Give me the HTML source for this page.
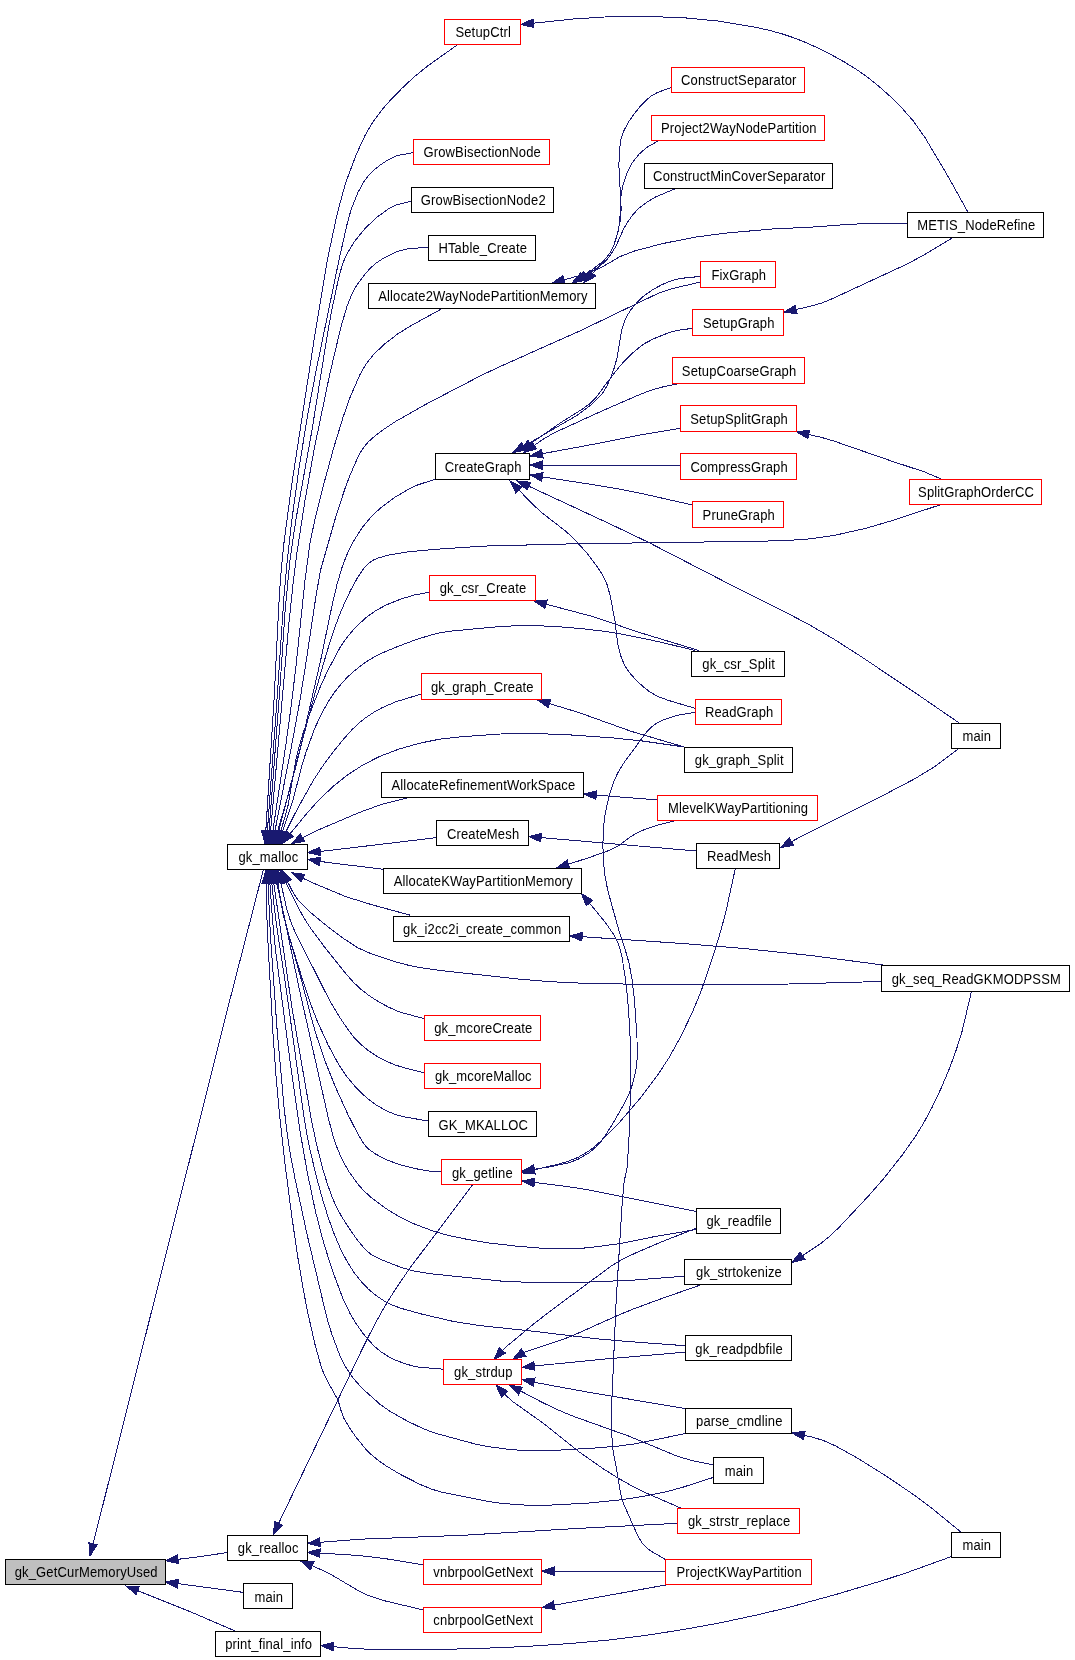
<!DOCTYPE html>
<html><head><meta charset="utf-8"><style>
html,body{margin:0;padding:0;background:#fff;width:1075px;height:1660px;overflow:hidden}
svg{position:absolute;left:0;top:0;display:block}
.tx{will-change:transform}
text{font-family:"Liberation Sans",sans-serif;font-size:13px;fill:#000;letter-spacing:0.16px}
</style></head><body>
<svg width="1075" height="1660" viewBox="0 0 1075 1660">
<g fill="none" stroke="#191970" stroke-width="1" shape-rendering="crispEdges">
<path d="M263.4,869.5 L230.4,997.9 L93.1,1543.9"/>
<path d="M227.2,1552.6 L191.3,1557.8 L177.9,1559.3"/>
<path d="M243.4,1592.4 L177.9,1583.6"/>
<path d="M235.5,1631.2 L190.8,1611.9 L137.6,1590.6"/>
<path d="M472.4,1185.0 L409.7,1268.4 L394.7,1290.3 L382.2,1310.8 L373.5,1326.8 L364.1,1345.2 L278.7,1523.2"/>
<path d="M677.7,1523.3 L578.0,1528.4 L462.9,1535.3 L360.5,1539.2 L320.0,1542.3"/>
<path d="M423.1,1564.8 L386.9,1558.9 L368.4,1556.5 L347.3,1554.7 L320.0,1553.2"/>
<path d="M423.1,1609.9 L385.8,1601.1 L368.4,1595.5 L356.4,1589.6 L329.3,1573.4 L312.2,1565.8"/>
<path d="M457.7,44.6 L428.0,65.7 L413.7,77.3 L402.7,87.6 L391.9,98.5 L383.7,107.8 L376.2,117.4 L371.1,124.9 L365.0,135.5 L356.0,155.1 L345.3,183.9 L337.3,213.2 L327.9,257.1 L314.2,338.9 L291.8,484.1 L284.1,541.6 L281.3,569.0 L279.3,596.1 L274.2,696.9 L265.8,831.0"/>
<path d="M413.1,152.6 L396.6,155.7 L388.0,159.8 L379.9,165.3 L374.6,169.6 L367.7,176.6 L364.1,181.4 L358.2,191.9 L351.3,208.9 L347.2,223.7 L339.3,258.5 L316.6,368.2 L308.2,411.9 L299.3,466.1 L291.8,520.3 L287.0,563.0 L284.0,596.1 L277.4,693.9 L267.4,831.0"/>
<path d="M411.3,201.3 L396.4,204.9 L388.4,208.9 L375.8,218.1 L364.5,229.1 L354.6,241.4 L347.7,252.5 L345.0,258.0 L342.0,265.9 L338.2,279.9 L331.9,309.5 L327.9,331.3 L312.0,430.0 L295.8,520.3 L290.0,560.0 L285.3,608.2 L279.5,693.9 L269.0,831.0"/>
<path d="M428.1,247.2 L408.0,248.8 L398.6,251.1 L392.9,253.4 L384.5,257.6 L376.9,262.5 L371.6,267.0 L366.8,272.0 L360.5,280.0 L355.4,287.3 L352.4,292.8 L347.3,305.4 L340.9,327.1 L329.7,374.4 L314.4,448.0 L304.7,502.1 L296.8,553.8 L292.7,587.0 L288.6,626.5 L270.6,831.0"/>
<path d="M442.4,308.4 L411.0,325.7 L397.9,333.8 L385.2,343.5 L373.7,354.3 L366.0,364.0 L360.0,374.5 L350.1,397.2 L342.9,417.7 L333.7,447.8 L324.5,481.4 L314.5,521.2 L309.7,544.8 L304.9,581.3 L296.2,664.3 L291.6,702.9 L285.5,747.3 L272.8,831.1"/>
<path d="M700.6,282.0 L672.6,288.5 L658.0,293.4 L581.9,330.0 L501.7,365.8 L481.7,375.2 L428.0,403.1 L396.2,421.1 L383.8,429.3 L375.4,435.5 L368.7,441.5 L363.7,447.3 L360.1,453.0 L357.3,458.5 L349.8,475.8 L345.4,487.3 L336.5,514.3 L320.6,570.0 L316.2,594.6 L304.8,670.3 L299.5,702.9 L291.3,747.3 L274.9,831.2"/>
<path d="M435.2,479.3 L418.3,484.7 L409.6,488.5 L394.2,497.7 L381.5,507.2 L372.5,515.3 L362.6,527.1 L354.4,539.7 L347.9,552.2 L342.3,566.5 L337.0,584.4 L332.3,604.4 L321.0,658.6 L299.4,752.7 L290.1,788.3 L277.5,831.5"/>
<path d="M941.5,504.4 L890.1,521.2 L865.4,528.4 L834.8,535.3 L810.6,538.8 L793.1,540.1 L763.2,541.2 L574.1,543.8 L483.0,546.1 L435.8,549.3 L406.7,552.0 L389.2,555.0 L379.1,557.7 L373.7,559.9 L368.7,563.2 L364.6,567.2 L357.6,577.5 L351.4,588.8 L345.9,599.9 L339.5,614.9 L334.1,629.5 L326.6,653.0 L315.7,690.7 L297.7,757.7 L278.6,831.4"/>
<path d="M429.1,592.3 L414.0,595.1 L401.9,598.7 L386.5,604.8 L374.8,611.2 L365.2,618.3 L354.2,628.8 L346.4,638.1 L339.6,648.3 L327.8,670.5 L320.3,686.8 L311.4,709.4 L303.2,732.9 L298.7,748.2 L295.8,760.3 L288.0,805.6 L284.8,817.7 L280.6,831.5"/>
<path d="M695.3,650.6 L664.7,643.1 L646.5,639.1 L622.6,634.3 L603.6,631.2 L582.2,628.7 L559.8,626.8 L537.6,625.7 L520.0,625.5 L496.7,626.8 L450.2,631.2 L440.3,632.7 L428.6,635.7 L413.3,640.6 L395.8,647.3 L381.8,653.2 L373.8,657.3 L366.0,662.0 L355.9,669.6 L348.7,675.9 L342.1,682.8 L334.6,692.2 L329.4,699.9 L323.1,710.7 L315.1,727.4 L306.3,751.4 L301.7,766.4 L293.0,800.0 L282.5,831.7"/>
<path d="M421.3,694.0 L395.2,702.0 L381.4,708.1 L373.3,712.6 L365.5,717.8 L358.3,723.6 L351.9,729.8 L343.7,738.9 L332.0,753.4 L322.5,766.4 L313.7,779.8 L297.8,808.1 L285.6,832.3"/>
<path d="M683.8,746.9 L641.8,740.9 L611.6,737.8 L568.6,734.8 L531.9,733.4 L500.6,734.0 L460.6,736.8 L440.0,739.1 L419.1,743.3 L398.6,749.2 L379.0,756.7 L362.7,765.1 L347.1,775.3 L333.0,786.5 L317.5,801.5 L306.0,814.4 L290.0,833.9"/>
<path d="M407.6,797.9 L381.0,804.6 L358.5,812.8 L317.1,830.5 L302.5,837.7"/>
<path d="M436.7,837.6 L334.9,849.8 L320.2,851.4"/>
<path d="M383.1,869.3 L327.4,862.4 L320.1,861.4"/>
<path d="M409.9,915.1 L372.8,905.0 L346.2,896.8 L315.1,883.8 L302.7,878.2"/>
<path d="M881.3,981.5 L789.4,984.0 L733.6,984.7 L656.1,984.6 L584.5,983.3 L549.9,981.7 L520.0,979.2 L438.6,970.3 L419.8,967.6 L407.5,965.0 L394.9,961.6 L371.5,953.9 L358.0,947.9 L342.6,937.9 L329.9,928.4 L315.2,916.4 L307.9,910.1 L301.2,903.5 L297.2,898.8 L293.6,893.5 L287.5,881.7"/>
<path d="M424.0,1018.6 L402.5,1012.8 L396.3,1010.7 L387.7,1006.7 L376.5,1000.5 L368.3,995.0 L360.5,988.9 L353.9,982.7 L345.6,973.4 L324.1,946.5 L309.2,926.2 L304.1,918.2 L298.2,907.5 L285.5,881.7"/>
<path d="M424.0,1072.9 L403.3,1067.5 L394.7,1064.8 L386.4,1061.3 L378.1,1057.0 L367.8,1050.2 L360.5,1044.2 L354.3,1037.7 L348.6,1030.4 L339.5,1017.1 L329.9,1001.1 L295.0,931.9 L290.4,920.7 L286.8,909.2 L280.8,882.7"/>
<path d="M428.1,1121.0 L405.4,1117.1 L396.2,1114.8 L387.4,1111.3 L376.5,1105.2 L366.5,1097.7 L356.0,1087.7 L346.0,1075.6 L338.1,1063.5 L328.0,1044.7 L317.5,1021.7 L310.7,1004.2 L303.6,983.1 L289.6,938.0 L283.2,914.5 L280.2,898.9 L278.1,882.9"/>
<path d="M441.4,1171.7 L429.4,1171.1 L414.6,1168.5 L398.9,1164.4 L386.7,1159.8 L375.1,1153.8 L367.4,1148.1 L363.5,1143.4 L358.3,1134.8 L347.9,1114.5 L334.6,1085.1 L325.5,1062.1 L316.5,1035.9 L311.4,1018.2 L302.3,983.1 L287.9,932.2 L283.0,910.8 L277.5,882.8"/>
<path d="M695.8,1229.6 L653.5,1236.8 L620.4,1243.6 L587.7,1247.8 L572.0,1248.8 L557.0,1248.9 L538.6,1248.0 L514.2,1245.9 L489.3,1243.0 L468.3,1239.6 L447.5,1235.2 L433.1,1231.0 L415.1,1224.3 L400.2,1217.3 L386.3,1208.8 L370.9,1197.2 L364.0,1190.9 L358.0,1184.3 L349.1,1171.8 L344.4,1163.9 L340.1,1155.0 L336.0,1145.0 L332.6,1134.6 L328.0,1116.7 L299.4,989.5 L280.9,901.3 L276.5,882.6"/>
<path d="M684.4,1276.2 L632.6,1280.2 L580.2,1282.4 L537.9,1282.7 L502.3,1281.2 L431.1,1273.8 L413.7,1271.0 L400.7,1267.3 L380.0,1259.1 L371.4,1254.6 L366.4,1250.6 L358.0,1241.0 L348.5,1227.4 L341.7,1216.7 L335.4,1204.8 L330.8,1193.7 L326.9,1182.4 L322.3,1167.2 L317.4,1148.2 L311.7,1121.6 L292.1,1008.5 L273.7,882.9"/>
<path d="M684.9,1345.7 L626.3,1341.4 L595.9,1338.7 L529.5,1330.8 L479.9,1325.6 L453.2,1321.4 L421.8,1314.1 L400.7,1308.2 L392.0,1305.0 L383.7,1300.7 L376.0,1295.5 L368.7,1289.4 L362.2,1282.8 L354.1,1272.6 L347.4,1262.1 L340.7,1249.3 L334.4,1234.5 L328.3,1217.8 L322.1,1197.7 L316.2,1175.9 L310.3,1151.0 L306.6,1133.0 L303.7,1115.2 L286.2,988.8 L276.8,927.0 L274.1,906.0 L271.8,882.9"/>
<path d="M443.4,1369.2 L420.1,1367.3 L413.7,1366.2 L404.0,1363.4 L394.8,1359.8 L389.2,1357.0 L380.7,1351.6 L375.5,1347.3 L369.0,1340.6 L363.1,1333.5 L355.5,1322.7 L350.3,1314.0 L342.7,1298.0 L332.9,1271.8 L323.9,1243.8 L315.5,1211.6 L307.3,1172.4 L299.8,1129.9 L289.2,1054.9 L275.6,950.6 L272.5,919.9 L269.9,883.0"/>
<path d="M686.1,1433.4 L635.4,1443.8 L617.2,1446.2 L592.3,1448.2 L549.4,1450.7 L534.0,1451.0 L511.7,1449.7 L486.9,1446.5 L474.7,1443.9 L434.0,1432.8 L422.2,1428.2 L407.0,1420.9 L390.3,1411.5 L380.0,1404.3 L364.3,1390.2 L357.8,1383.5 L351.7,1376.3 L345.1,1366.2 L339.8,1355.4 L331.9,1334.4 L326.8,1317.6 L307.1,1234.7 L294.9,1178.1 L289.8,1151.2 L287.1,1133.1 L284.2,1108.6 L277.2,1031.1 L270.4,935.8 L268.0,883.0"/>
<path d="M713.4,1477.4 L681.0,1487.8 L665.6,1491.9 L642.3,1496.6 L617.7,1500.2 L586.9,1503.2 L552.1,1505.0 L525.7,1505.1 L502.2,1503.5 L487.1,1501.3 L440.8,1491.9 L431.5,1489.1 L420.1,1484.4 L400.0,1474.2 L386.3,1466.0 L378.5,1460.6 L371.1,1454.5 L366.5,1450.0 L355.8,1436.9 L350.0,1428.6 L344.0,1418.4 L341.5,1412.1 L338.0,1400.0 L326.5,1379.4 L323.7,1373.3 L320.9,1365.7 L315.2,1345.3 L307.5,1311.5 L303.0,1287.9 L297.6,1256.0 L291.6,1214.9 L284.8,1162.2 L280.0,1119.4 L276.1,1076.9 L273.0,1034.2 L267.6,935.8 L266.6,909.1 L266.2,883.0"/>
<path d="M671.0,87.5 L657.0,92.7 L651.6,95.7 L646.9,99.5 L640.1,106.5 L634.1,114.1 L628.6,121.9 L624.1,130.2 L621.0,138.8 L619.3,150.6 L618.9,166.0 L621.2,208.8 L620.0,221.8 L617.2,234.4 L614.1,244.5 L609.5,253.7 L600.8,264.4 L592.6,273.4"/>
<path d="M659.0,140.4 L647.0,147.3 L639.0,154.2 L632.3,162.7 L627.3,172.4 L623.0,184.9 L621.1,193.9 L620.4,211.8 L619.2,224.5 L618.2,231.0 L614.7,243.2 L610.5,252.0 L606.9,256.9 L600.9,262.9 L585.8,274.8"/>
<path d="M676.9,188.0 L655.8,196.9 L647.1,202.0 L639.1,208.0 L632.3,215.3 L626.6,223.7 L623.4,229.3 L615.8,246.5 L610.9,254.3 L607.2,259.2 L602.5,263.9 L595.4,269.2 L582.8,276.7"/>
<path d="M907.1,223.1 L851.9,224.1 L810.9,227.2 L773.5,228.9 L726.9,233.0 L695.4,237.1 L663.0,243.5 L634.5,251.0 L620.4,256.4 L602.4,266.9 L594.0,270.8 L579.8,275.5 L564.0,279.8"/>
<path d="M967.8,212.0 L948.8,177.7 L925.2,137.9 L912.9,120.5 L900.1,106.0 L891.0,97.1 L879.4,86.8 L867.4,77.1 L857.5,70.1 L844.2,61.9 L831.1,54.6 L817.4,47.7 L805.8,42.5 L793.9,37.8 L782.2,33.9 L770.3,30.6 L755.0,27.2 L717.9,21.0 L684.4,17.8 L644.7,16.3 L604.7,17.0 L573.2,19.0 L533.4,23.2"/>
<path d="M953.2,237.4 L924.0,254.9 L907.8,263.7 L831.2,299.2 L822.3,302.8 L813.6,305.5 L796.2,309.5"/>
<path d="M700.6,276.4 L680.6,278.4 L674.0,279.9 L667.8,282.1 L661.6,284.8 L652.7,289.7 L644.6,295.3 L639.5,299.8 L631.0,309.6 L627.7,314.8 L625.0,320.2 L621.9,329.0 L617.0,357.7 L614.6,366.9 L611.4,375.7 L607.4,385.0 L604.1,390.9 L600.4,395.9 L591.8,404.3 L576.8,415.5 L523.8,446.2"/>
<path d="M692.4,328.4 L677.3,330.3 L668.7,332.7 L654.1,338.6 L645.8,342.9 L640.7,346.2 L631.3,354.1 L620.6,365.2 L606.4,383.3 L596.8,396.6 L590.1,403.5 L583.1,408.6 L561.4,422.2 L530.2,443.8"/>
<path d="M680.1,383.3 L662.6,387.0 L650.7,390.3 L636.4,396.0 L604.4,409.9 L553.9,432.9 L542.8,439.5 L534.3,445.4"/>
<path d="M680.1,428.3 L643.3,434.4 L597.0,443.6 L542.3,453.7"/>
<path d="M680.1,465.1 L542.5,465.1"/>
<path d="M692.4,505.0 L644.8,494.2 L620.0,489.2 L590.9,484.3 L542.4,476.9"/>
<path d="M695.3,708.4 L668.1,700.3 L659.8,697.2 L654.9,694.9 L649.2,691.4 L644.2,687.6 L637.6,681.6 L631.1,674.6 L627.2,669.4 L624.0,664.0 L620.7,655.8 L617.7,643.8 L615.0,621.2 L610.4,596.5 L607.1,584.7 L604.6,578.9 L601.4,573.1 L595.9,564.9 L588.0,554.4 L574.9,539.7 L565.6,531.1 L540.9,512.0 L529.9,501.4 L518.9,490.0"/>
<path d="M958.6,722.6 L916.1,693.4 L858.6,654.9 L832.4,638.2 L808.9,624.5 L784.9,611.9 L736.7,587.9 L648.4,542.3 L611.2,524.5 L528.8,486.2"/>
<path d="M940.9,478.9 L924.7,472.0 L892.8,461.5 L833.5,440.9 L821.4,437.4 L808.7,434.5"/>
<path d="M699.2,650.6 L638.2,632.1 L594.4,617.0 L546.1,604.2"/>
<path d="M683.8,746.9 L631.5,731.4 L577.8,712.2 L549.5,703.6"/>
<path d="M656.8,799.9 L596.3,795.1"/>
<path d="M678.0,820.1 L658.1,824.9 L645.0,829.3 L635.6,833.6 L630.0,837.2 L619.1,845.4 L610.3,850.0 L589.4,857.5 L568.5,864.2"/>
<path d="M696.3,851.0 L541.2,837.6"/>
<path d="M959.1,748.2 L933.9,767.1 L915.3,778.5 L879.3,797.4 L808.0,832.9 L791.5,841.6"/>
<path d="M665.6,1559.6 L651.4,1551.3 L646.1,1547.4 L641.9,1542.7 L637.0,1534.1 L624.1,1505.0 L622.0,1499.2 L620.1,1490.8 L617.2,1472.6 L612.8,1449.3 L611.5,1430.2 L611.9,1400.0 L616.2,1299.8 L622.1,1204.5 L624.2,1181.2 L626.9,1169.0 L627.4,1164.6 L629.4,1130.6 L630.8,1074.9 L630.6,1050.5 L629.6,1026.4 L627.6,998.3 L625.5,979.4 L622.1,957.6 L620.1,948.9 L618.3,943.6 L614.0,935.0 L605.1,922.1 L589.5,903.1"/>
<path d="M883.4,965.1 L811.7,955.6 L745.0,948.6 L684.0,943.6 L582.2,936.7"/>
<path d="M695.3,712.2 L677.1,715.3 L664.7,719.3 L655.7,723.8 L650.8,727.5 L646.8,731.8 L624.5,761.9 L617.7,772.9 L614.0,781.1 L610.1,792.7 L607.1,804.7 L604.8,816.3 L603.3,829.6 L602.9,845.8 L603.4,861.2 L605.1,876.7 L607.4,888.5 L611.4,903.8 L619.2,931.3 L626.7,954.6 L629.1,963.6 L631.9,978.3 L634.4,999.5 L637.0,1037.6 L637.1,1059.5 L636.1,1068.4 L634.9,1075.0 L632.6,1083.9 L629.8,1092.0 L627.1,1098.2 L624.0,1104.0 L613.3,1122.7 L606.2,1134.1 L600.7,1141.8 L597.1,1145.9 L589.0,1152.9 L577.8,1159.4 L568.6,1162.8 L550.2,1166.8 L534.4,1169.2"/>
<path d="M735.2,869.0 L726.6,908.5 L721.3,929.2 L713.4,955.1 L701.2,990.9 L692.7,1011.6 L680.8,1036.5 L668.9,1057.9 L657.0,1076.0 L640.1,1098.4 L619.3,1122.6 L604.7,1137.6 L595.8,1145.6 L588.7,1151.2 L577.8,1157.5 L567.8,1161.4 L556.2,1164.7 L534.1,1169.8"/>
<path d="M695.8,1211.4 L587.1,1189.6 L565.8,1186.3 L534.4,1182.5"/>
<path d="M971.4,991.7 L962.0,1031.6 L956.3,1049.7 L949.8,1067.7 L941.2,1088.0 L932.1,1107.3 L923.3,1123.6 L915.2,1136.7 L902.6,1154.6 L883.5,1178.8 L869.1,1195.3 L839.6,1226.8 L830.8,1235.3 L821.1,1243.3 L802.5,1255.7"/>
<path d="M695.8,1228.4 L661.7,1241.8 L636.4,1252.6 L622.6,1259.2 L612.2,1265.3 L552.0,1309.8 L534.4,1323.4 L507.0,1346.1 L500.6,1352.2 L502.5,1350.3"/>
<path d="M701.8,1284.5 L654.9,1301.0 L632.1,1309.5 L617.8,1315.4 L571.4,1336.2 L559.4,1340.6 L524.8,1352.1 L519.0,1355.0 L523.7,1352.5"/>
<path d="M684.9,1352.2 L602.0,1359.3 L534.4,1366.0"/>
<path d="M684.9,1408.5 L588.6,1392.3 L540.8,1383.5 L534.2,1382.2"/>
<path d="M713.4,1464.8 L692.3,1460.6 L677.5,1456.3 L629.3,1436.3 L571.2,1415.5 L556.5,1409.2 L542.8,1402.7 L520.6,1391.0"/>
<path d="M681.3,1508.3 L648.2,1493.9 L634.6,1487.4 L618.7,1478.5 L603.0,1468.6 L578.3,1451.3 L544.6,1424.2 L512.9,1401.7 L506.0,1395.6 L504.6,1394.1"/>
<path d="M960.8,1532.0 L933.4,1509.5 L916.2,1496.4 L887.0,1476.6 L858.0,1458.4 L836.5,1446.4 L823.5,1440.5 L811.2,1436.8 L804.3,1435.4"/>
<path d="M665.4,1571.2 L554.5,1571.2"/>
<path d="M665.6,1585.0 L554.3,1605.2"/>
<path d="M951.0,1556.7 L908.4,1572.1 L886.0,1579.5 L837.2,1594.1 L791.7,1606.6 L758.6,1614.6 L720.3,1622.8 L681.8,1629.8 L646.3,1635.3 L610.4,1639.9 L571.1,1643.5 L525.6,1646.5 L473.4,1648.7 L421.1,1649.7 L377.1,1649.5 L354.1,1648.6 L333.4,1646.7"/>
</g>
<g fill="#191970" stroke="#191970" stroke-width="1" shape-rendering="crispEdges">
<polygon points="90.0,1556.0 88.9,1542.8 97.2,1544.9"/>
<polygon points="165.5,1560.6 177.5,1555.0 178.4,1563.6"/>
<polygon points="165.5,1582.0 178.5,1579.4 177.3,1587.9"/>
<polygon points="126.0,1586.0 139.2,1586.6 136.1,1594.6"/>
<polygon points="273.3,1534.5 274.8,1521.4 282.6,1525.1"/>
<polygon points="307.5,1543.4 319.6,1538.0 320.3,1546.6"/>
<polygon points="307.5,1552.4 320.2,1548.9 319.7,1557.4"/>
<polygon points="300.7,1561.0 313.9,1561.8 310.6,1569.8"/>
<polygon points="265.0,843.5 261.5,830.8 270.1,831.3"/>
<polygon points="266.5,843.5 263.1,830.7 271.7,831.3"/>
<polygon points="268.0,843.5 264.7,830.7 273.2,831.4"/>
<polygon points="269.5,843.5 266.3,830.7 274.9,831.4"/>
<polygon points="271.0,843.5 268.6,830.5 277.1,831.8"/>
<polygon points="272.5,843.5 270.6,830.4 279.1,832.0"/>
<polygon points="274.0,843.5 273.4,830.3 281.6,832.7"/>
<polygon points="275.5,843.5 274.5,830.3 282.8,832.5"/>
<polygon points="277.0,843.5 276.5,830.3 284.7,832.8"/>
<polygon points="278.5,843.5 278.5,830.3 286.6,833.0"/>
<polygon points="280.0,843.5 281.7,830.4 289.4,834.2"/>
<polygon points="282.0,843.5 286.7,831.1 293.3,836.6"/>
<polygon points="291.5,843.6 300.5,833.9 304.6,841.5"/>
<polygon points="307.8,852.6 319.8,847.2 320.6,855.7"/>
<polygon points="307.8,859.3 320.8,857.2 319.4,865.7"/>
<polygon points="291.5,872.7 304.6,874.3 300.9,882.0"/>
<polygon points="282.0,870.5 291.3,879.8 283.6,883.6"/>
<polygon points="280.0,870.5 289.4,879.8 281.7,883.6"/>
<polygon points="278.0,870.5 285.0,881.7 276.6,883.6"/>
<polygon points="276.5,870.5 282.3,882.4 273.8,883.4"/>
<polygon points="275.0,870.5 281.7,881.9 273.2,883.6"/>
<polygon points="273.5,870.5 280.7,881.6 272.3,883.7"/>
<polygon points="272.0,870.5 278.0,882.3 269.5,883.5"/>
<polygon points="270.5,870.5 276.0,882.5 267.5,883.4"/>
<polygon points="269.0,870.5 274.2,882.7 265.6,883.3"/>
<polygon points="267.5,870.5 272.3,882.8 263.7,883.2"/>
<polygon points="266.0,870.5 270.5,882.9 261.9,883.1"/>
<polygon points="584.0,282.5 589.4,270.4 595.7,276.3"/>
<polygon points="576.0,282.5 583.2,271.4 588.5,278.1"/>
<polygon points="572.0,283.0 580.6,273.0 585.0,280.4"/>
<polygon points="552.0,283.2 562.9,275.7 565.2,283.9"/>
<polygon points="521.0,24.5 533.0,18.9 533.9,27.5"/>
<polygon points="784.0,312.1 795.3,305.3 797.1,313.7"/>
<polygon points="513.0,452.5 521.7,442.5 526.0,450.0"/>
<polygon points="520.0,451.0 527.8,440.3 532.7,447.4"/>
<polygon points="524.0,452.5 531.8,441.9 536.7,448.9"/>
<polygon points="530.0,456.0 541.5,449.5 543.1,458.0"/>
<polygon points="530.0,465.1 542.5,460.8 542.5,469.4"/>
<polygon points="530.0,475.0 543.0,472.7 541.7,481.2"/>
<polygon points="510.2,481.0 522.0,487.0 515.8,493.0"/>
<polygon points="517.5,481.0 530.7,482.3 527.0,490.2"/>
<polygon points="796.5,431.8 809.6,430.3 807.8,438.7"/>
<polygon points="534.0,601.0 547.2,600.0 545.0,608.3"/>
<polygon points="537.5,700.0 550.7,699.4 548.3,707.7"/>
<polygon points="583.8,794.1 596.6,790.8 595.9,799.4"/>
<polygon points="556.6,868.0 567.2,860.1 569.8,868.3"/>
<polygon points="528.7,836.5 541.5,833.3 540.8,841.9"/>
<polygon points="780.5,847.5 789.5,837.8 793.5,845.4"/>
<polygon points="581.5,893.5 592.8,900.3 586.2,905.8"/>
<polygon points="569.7,935.9 582.5,932.4 581.9,941.0"/>
<polygon points="522.0,1171.0 533.7,1164.9 535.0,1173.4"/>
<polygon points="522.0,1172.9 533.1,1165.7 535.2,1174.0"/>
<polygon points="522.0,1181.0 534.9,1178.2 533.9,1186.8"/>
<polygon points="792.0,1262.5 800.1,1252.1 804.8,1259.3"/>
<polygon points="494.0,1359.5 499.3,1347.4 505.6,1353.2"/>
<polygon points="513.0,1359.0 521.5,1348.9 525.9,1356.2"/>
<polygon points="522.0,1367.4 533.9,1361.7 534.9,1370.3"/>
<polygon points="522.0,1379.5 535.1,1378.0 533.3,1386.4"/>
<polygon points="509.6,1385.0 522.6,1387.3 518.5,1394.8"/>
<polygon points="496.0,1385.0 507.7,1391.2 501.4,1397.1"/>
<polygon points="792.0,1433.0 805.1,1431.2 803.5,1439.6"/>
<polygon points="542.0,1571.2 554.5,1566.9 554.5,1575.5"/>
<polygon points="542.0,1607.5 553.5,1601.0 555.1,1609.5"/>
<polygon points="321.0,1645.5 333.9,1642.4 333.0,1651.0"/>
</g>
<rect x="5.5" y="1559.5" width="160.0" height="25.0" fill="#bfbfbf" stroke="#000"/><rect x="227.5" y="1535.5" width="80.0" height="25.0" fill="#fff" stroke="#000"/><rect x="243.5" y="1583.5" width="49.0" height="25.0" fill="#fff" stroke="#000"/><rect x="215.5" y="1631.5" width="105.0" height="25.0" fill="#fff" stroke="#000"/><rect x="227.5" y="844.5" width="80.0" height="25.0" fill="#fff" stroke="#000"/><rect x="444.5" y="19.5" width="76.0" height="25.0" fill="#fff" stroke="#ff0000"/><rect x="413.5" y="139.5" width="136.0" height="25.0" fill="#fff" stroke="#ff0000"/><rect x="411.5" y="187.5" width="142.0" height="25.0" fill="#fff" stroke="#000"/><rect x="428.5" y="235.5" width="107.0" height="25.0" fill="#fff" stroke="#000"/><rect x="368.5" y="283.5" width="227.0" height="25.0" fill="#fff" stroke="#000"/><rect x="435.5" y="453.5" width="94.0" height="26.0" fill="#fff" stroke="#000"/><rect x="429.5" y="575.5" width="106.0" height="25.0" fill="#fff" stroke="#ff0000"/><rect x="421.5" y="673.5" width="120.0" height="26.0" fill="#fff" stroke="#ff0000"/><rect x="381.5" y="772.5" width="202.0" height="25.0" fill="#fff" stroke="#000"/><rect x="436.5" y="820.5" width="92.0" height="25.0" fill="#fff" stroke="#000"/><rect x="383.5" y="868.5" width="198.0" height="25.0" fill="#fff" stroke="#000"/><rect x="393.5" y="916.5" width="176.0" height="25.0" fill="#fff" stroke="#000"/><rect x="424.5" y="1015.5" width="116.0" height="25.0" fill="#fff" stroke="#ff0000"/><rect x="424.5" y="1063.5" width="116.0" height="25.0" fill="#fff" stroke="#ff0000"/><rect x="428.5" y="1111.5" width="108.0" height="25.0" fill="#fff" stroke="#000"/><rect x="441.5" y="1159.5" width="80.0" height="25.0" fill="#fff" stroke="#ff0000"/><rect x="443.5" y="1359.5" width="78.0" height="25.0" fill="#fff" stroke="#ff0000"/><rect x="423.5" y="1559.5" width="118.0" height="25.0" fill="#fff" stroke="#ff0000"/><rect x="423.5" y="1607.5" width="118.0" height="25.0" fill="#fff" stroke="#ff0000"/><rect x="671.5" y="67.5" width="133.0" height="25.0" fill="#fff" stroke="#ff0000"/><rect x="651.5" y="115.5" width="173.0" height="25.0" fill="#fff" stroke="#ff0000"/><rect x="644.5" y="163.5" width="188.0" height="25.0" fill="#fff" stroke="#000"/><rect x="700.5" y="261.5" width="75.0" height="26.0" fill="#fff" stroke="#ff0000"/><rect x="692.5" y="309.5" width="91.0" height="26.0" fill="#fff" stroke="#ff0000"/><rect x="672.5" y="357.5" width="132.0" height="26.0" fill="#fff" stroke="#ff0000"/><rect x="680.5" y="405.5" width="116.0" height="26.0" fill="#fff" stroke="#ff0000"/><rect x="680.5" y="453.5" width="116.0" height="26.0" fill="#fff" stroke="#ff0000"/><rect x="692.5" y="501.5" width="91.0" height="26.0" fill="#fff" stroke="#ff0000"/><rect x="691.5" y="651.5" width="93.0" height="25.0" fill="#fff" stroke="#000"/><rect x="695.5" y="699.5" width="86.0" height="25.0" fill="#fff" stroke="#ff0000"/><rect x="684.5" y="747.5" width="108.0" height="25.0" fill="#fff" stroke="#000"/><rect x="657.5" y="795.5" width="160.0" height="25.0" fill="#fff" stroke="#ff0000"/><rect x="696.5" y="843.5" width="83.0" height="25.0" fill="#fff" stroke="#000"/><rect x="696.5" y="1208.5" width="84.0" height="25.0" fill="#fff" stroke="#000"/><rect x="684.5" y="1259.5" width="107.0" height="25.0" fill="#fff" stroke="#000"/><rect x="685.5" y="1335.5" width="106.0" height="25.0" fill="#fff" stroke="#000"/><rect x="685.5" y="1408.5" width="106.0" height="25.0" fill="#fff" stroke="#000"/><rect x="713.5" y="1457.5" width="50.0" height="26.0" fill="#fff" stroke="#000"/><rect x="677.5" y="1508.5" width="122.0" height="25.0" fill="#fff" stroke="#ff0000"/><rect x="665.5" y="1559.5" width="146.0" height="25.0" fill="#fff" stroke="#ff0000"/><rect x="907.5" y="212.5" width="136.0" height="25.0" fill="#fff" stroke="#000"/><rect x="909.5" y="479.5" width="132.0" height="25.0" fill="#fff" stroke="#ff0000"/><rect x="951.5" y="723.5" width="49.0" height="25.0" fill="#fff" stroke="#000"/><rect x="881.5" y="965.5" width="188.0" height="26.0" fill="#fff" stroke="#000"/><rect x="951.5" y="1532.5" width="49.0" height="25.0" fill="#fff" stroke="#000"/></svg>
<svg class="tx" width="1075" height="1660" viewBox="0 0 1075 1660">
<text transform="translate(86.2 1577.4) scale(1 1.07)" text-anchor="middle">gk_GetCurMemoryUsed</text>
<text transform="translate(268.2 1553.1) scale(1 1.07)" text-anchor="middle">gk_realloc</text>
<text transform="translate(268.8 1601.5) scale(1 1.07)" text-anchor="middle">main</text>
<text transform="translate(268.7 1649.4) scale(1 1.07)" text-anchor="middle">print_final_info</text>
<text transform="translate(268.4 862.4) scale(1 1.07)" text-anchor="middle">gk_malloc</text>
<text transform="translate(483.2 37.2) scale(1 1.07)" text-anchor="middle">SetupCtrl</text>
<text transform="translate(482.2 157.3) scale(1 1.07)" text-anchor="middle">GrowBisectionNode</text>
<text transform="translate(483.3 205.2) scale(1 1.07)" text-anchor="middle">GrowBisectionNode2</text>
<text transform="translate(482.8 253.1) scale(1 1.07)" text-anchor="middle">HTable_Create</text>
<text transform="translate(482.9 301.2) scale(1 1.07)" text-anchor="middle">Allocate2WayNodePartitionMemory</text>
<text transform="translate(483.2 471.7) scale(1 1.07)" text-anchor="middle">CreateGraph</text>
<text transform="translate(483.0 593.3) scale(1 1.07)" text-anchor="middle">gk_csr_Create</text>
<text transform="translate(482.3 691.9) scale(1 1.07)" text-anchor="middle">gk_graph_Create</text>
<text transform="translate(483.4 790.4) scale(1 1.07)" text-anchor="middle">AllocateRefinementWorkSpace</text>
<text transform="translate(483.1 838.5) scale(1 1.07)" text-anchor="middle">CreateMesh</text>
<text transform="translate(483.3 886.0) scale(1 1.07)" text-anchor="middle">AllocateKWayPartitionMemory</text>
<text transform="translate(482.2 934.3) scale(1 1.07)" text-anchor="middle">gk_i2cc2i_create_common</text>
<text transform="translate(483.3 1033.2) scale(1 1.07)" text-anchor="middle">gk_mcoreCreate</text>
<text transform="translate(483.3 1081.1) scale(1 1.07)" text-anchor="middle">gk_mcoreMalloc</text>
<text transform="translate(483.3 1129.5) scale(1 1.07)" text-anchor="middle">GK_MKALLOC</text>
<text transform="translate(482.4 1177.5) scale(1 1.07)" text-anchor="middle">gk_getline</text>
<text transform="translate(483.3 1377.4) scale(1 1.07)" text-anchor="middle">gk_strdup</text>
<text transform="translate(483.3 1577.0) scale(1 1.07)" text-anchor="middle">vnbrpoolGetNext</text>
<text transform="translate(483.3 1624.9) scale(1 1.07)" text-anchor="middle">cnbrpoolGetNext</text>
<text transform="translate(738.8 85.3) scale(1 1.07)" text-anchor="middle">ConstructSeparator</text>
<text transform="translate(738.8 133.3) scale(1 1.07)" text-anchor="middle">Project2WayNodePartition</text>
<text transform="translate(739.3 181.3) scale(1 1.07)" text-anchor="middle">ConstructMinCoverSeparator</text>
<text transform="translate(738.8 279.9) scale(1 1.07)" text-anchor="middle">FixGraph</text>
<text transform="translate(738.8 327.7) scale(1 1.07)" text-anchor="middle">SetupGraph</text>
<text transform="translate(739.1 375.7) scale(1 1.07)" text-anchor="middle">SetupCoarseGraph</text>
<text transform="translate(739.1 423.7) scale(1 1.07)" text-anchor="middle">SetupSplitGraph</text>
<text transform="translate(739.1 471.7) scale(1 1.07)" text-anchor="middle">CompressGraph</text>
<text transform="translate(738.8 519.7) scale(1 1.07)" text-anchor="middle">PruneGraph</text>
<text transform="translate(738.6 669.0) scale(1 1.07)" text-anchor="middle">gk_csr_Split</text>
<text transform="translate(739.2 717.2) scale(1 1.07)" text-anchor="middle">ReadGraph</text>
<text transform="translate(739.2 765.3) scale(1 1.07)" text-anchor="middle">gk_graph_Split</text>
<text transform="translate(738.1 813.2) scale(1 1.07)" text-anchor="middle">MlevelKWayPartitioning</text>
<text transform="translate(739.0 861.2) scale(1 1.07)" text-anchor="middle">ReadMesh</text>
<text transform="translate(739.1 1226.2) scale(1 1.07)" text-anchor="middle">gk_readfile</text>
<text transform="translate(739.0 1277.1) scale(1 1.07)" text-anchor="middle">gk_strtokenize</text>
<text transform="translate(739.1 1353.5) scale(1 1.07)" text-anchor="middle">gk_readpdbfile</text>
<text transform="translate(739.3 1426.4) scale(1 1.07)" text-anchor="middle">parse_cmdline</text>
<text transform="translate(739.1 1475.6) scale(1 1.07)" text-anchor="middle">main</text>
<text transform="translate(739.1 1526.1) scale(1 1.07)" text-anchor="middle">gk_strstr_replace</text>
<text transform="translate(739.1 1577.0) scale(1 1.07)" text-anchor="middle">ProjectKWayPartition</text>
<text transform="translate(976.3 230.2) scale(1 1.07)" text-anchor="middle">METIS_NodeRefine</text>
<text transform="translate(976.1 497.1) scale(1 1.07)" text-anchor="middle">SplitGraphOrderCC</text>
<text transform="translate(976.8 741.2) scale(1 1.07)" text-anchor="middle">main</text>
<text transform="translate(976.3 983.8) scale(1 1.07)" text-anchor="middle">gk_seq_ReadGKMODPSSM</text>
<text transform="translate(976.8 1550.2) scale(1 1.07)" text-anchor="middle">main</text>
</svg></body></html>
